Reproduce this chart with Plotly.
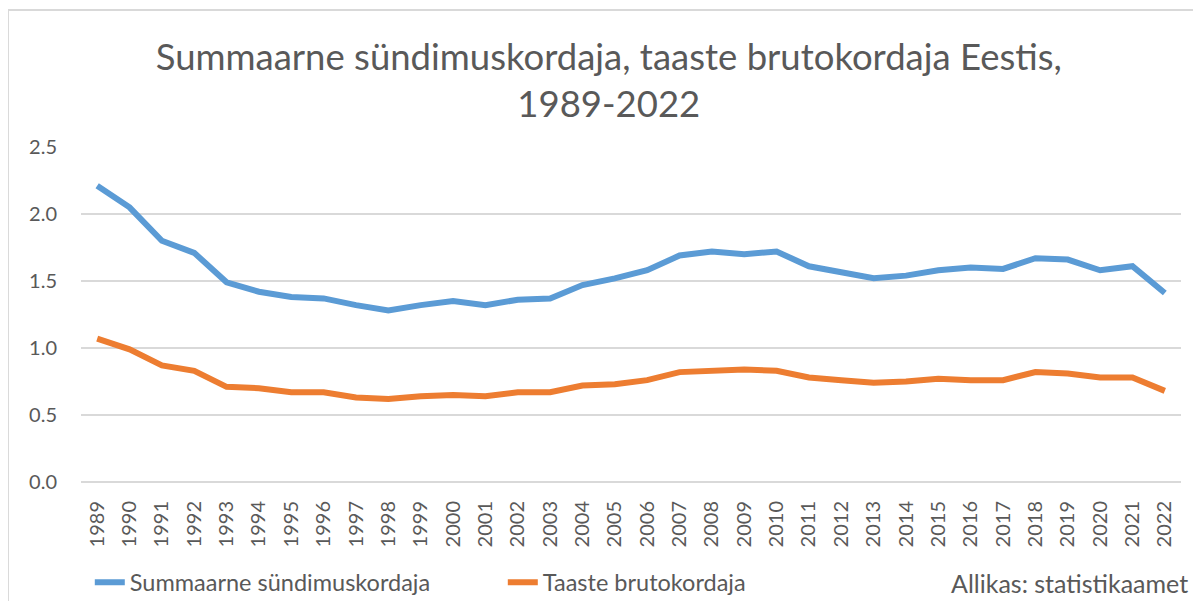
import plotly.graph_objects as go

YEARS = [str(y) for y in range(1989, 2023)]

TFR = [2.21, 2.05, 1.80, 1.71, 1.49, 1.42, 1.38, 1.37, 1.32, 1.28,
       1.32, 1.35, 1.32, 1.36, 1.37, 1.47, 1.52, 1.58, 1.69, 1.72,
       1.70, 1.72, 1.61, 1.56, 1.52, 1.54, 1.58, 1.60, 1.59, 1.67,
       1.66, 1.58, 1.61, 1.41]

GROSS_REPRO = [1.07, 0.99, 0.87, 0.83, 0.71, 0.70, 0.67, 0.67, 0.63, 0.62,
               0.64, 0.65, 0.64, 0.67, 0.67, 0.72, 0.73, 0.76, 0.82, 0.83,
               0.84, 0.83, 0.78, 0.76, 0.74, 0.75, 0.77, 0.76, 0.76, 0.82,
               0.81, 0.78, 0.78, 0.68]

Y_TICKS = [0.0, 0.5, 1.0, 1.5, 2.0, 2.5]

TEXT_COLOR = "#595959"
GRID_COLOR = "#d9d9d9"
FONT = "Lato"

# the page body keeps its default 8px margin, so the figure is 16px smaller
FIG_W, FIG_H = 1185, 593

fig = go.Figure()
fig.add_trace(go.Scatter(
    x=YEARS, y=TFR, mode="lines", name="Summaarne sündimuskordaja",
    line=dict(color="#5b9bd5", width=6),
))
fig.add_trace(go.Scatter(
    x=YEARS, y=GROSS_REPRO, mode="lines", name="Taaste brutokordaja",
    line=dict(color="#ed7d31", width=6),
))

fig.update_layout(
    width=FIG_W,
    height=FIG_H,
    margin=dict(l=73, r=12, t=139, b=119, autoexpand=False),
    paper_bgcolor="white",
    plot_bgcolor="white",
    font=dict(family=FONT, color=TEXT_COLOR, size=20),
    title=dict(
        text="Summaarne sündimuskordaja, taaste brutokordaja Eestis,<br>1989-2022",
        x=0.507, xanchor="center",
        y=1 - 62 / FIG_H, yanchor="middle",
        font=dict(family=FONT, size=36.5, color=TEXT_COLOR),
    ),
    showlegend=True,
    legend=dict(
        orientation="h",
        x=0.008, xanchor="left",
        y=-0.30, yanchor="middle",
        font=dict(family=FONT, size=23.5, color=TEXT_COLOR),
        entrywidth=368,
        bgcolor="rgba(0,0,0,0)",
    ),
    shapes=[dict(
        type="rect", xref="paper", yref="paper",
        x0=-0.0664, x1=1.05, y0=-0.6, y1=1.409,
        line=dict(color=GRID_COLOR, width=2),
        fillcolor="rgba(0,0,0,0)", layer="below",
    )],
    annotations=[dict(
        text="Allikas: statistikaamet",
        xref="paper", yref="paper",
        x=1.008, xanchor="right",
        y=-0.30, yanchor="middle",
        showarrow=False,
        font=dict(family=FONT, size=25, color=TEXT_COLOR),
    )],
)

fig.update_xaxes(
    type="category",
    range=[-0.5, len(YEARS) - 0.5],
    tickangle=-90,
    showgrid=False,
    showline=False,
    ticks="",
    automargin=False,
    ticklabelstandoff=14,
    tickfont=dict(family=FONT, size=20, color=TEXT_COLOR),
)
fig.update_yaxes(
    range=[0, 2.5],
    tickvals=Y_TICKS,
    ticktext=[f"{v:.1f}" for v in Y_TICKS],
    showgrid=True,
    gridcolor=GRID_COLOR,
    gridwidth=2,
    zeroline=True,
    zerolinecolor=GRID_COLOR,
    zerolinewidth=2,
    showline=False,
    ticks="",
    automargin=False,
    ticklabelstandoff=23,
    tickfont=dict(family=FONT, size=20, color=TEXT_COLOR),
)

fig.write_html("out.html")
